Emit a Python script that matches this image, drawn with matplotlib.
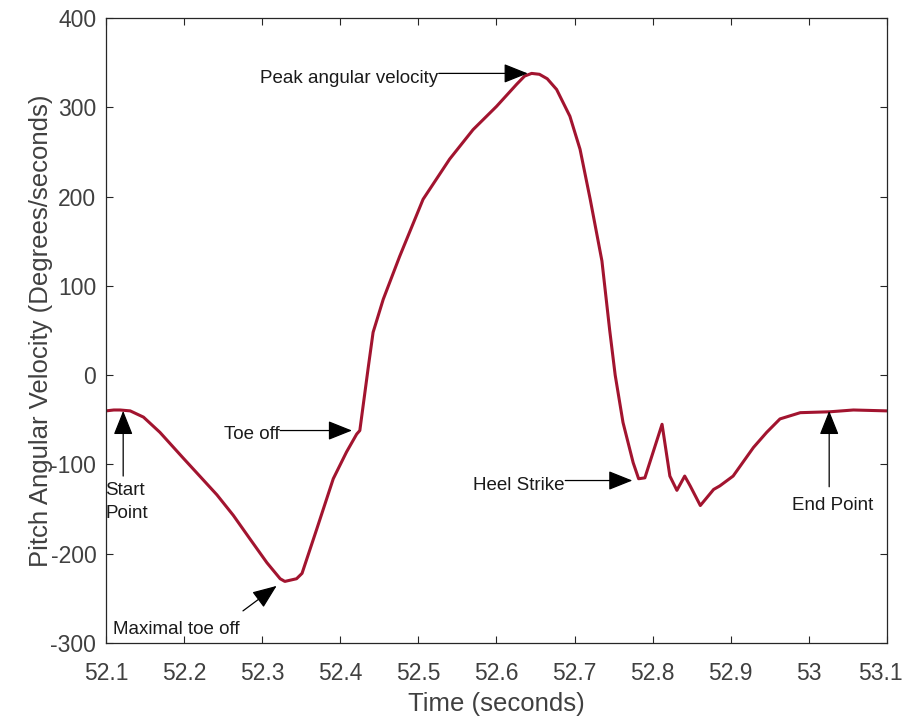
import matplotlib
matplotlib.use("Agg")
import matplotlib.pyplot as plt
from matplotlib.transforms import ScaledTranslation

plt.rcParams['font.family'] = ['Liberation Sans', 'DejaVu Sans']
plt.rcParams['axes.unicode_minus'] = False

time_s = [52.100, 52.110, 52.118, 52.131, 52.148, 52.169, 52.199, 52.220, 52.242,
          52.263, 52.284, 52.306, 52.323, 52.329, 52.344, 52.351, 52.370, 52.391,
          52.408, 52.421, 52.425, 52.436, 52.442, 52.455, 52.476, 52.506, 52.540,
          52.570, 52.600, 52.626, 52.636, 52.645, 52.655, 52.665, 52.677, 52.694,
          52.707, 52.720, 52.735, 52.745, 52.752, 52.762, 52.775, 52.782, 52.790,
          52.812, 52.822, 52.831, 52.841, 52.848, 52.861, 52.878, 52.886, 52.903,
          52.929, 52.946, 52.963, 52.989, 53.027, 53.057, 53.100]
pitch_vel = [-40, -39, -39, -40, -47, -64, -93, -113, -134,
             -157, -183, -210, -228, -231, -228, -222, -172, -116,
             -86, -66, -62, 10, 48, 85, 133, 197, 242,
             275, 301, 326, 335, 338, 337, 332, 320, 290,
             253, 197, 128, 50, 0, -53, -98, -116, -115,
             -55, -113, -129, -113, -124, -146, -128, -124, -113,
             -81, -64, -49, -42, -41, -39, -40]

x_ticks = [52.1, 52.2, 52.3, 52.4, 52.5, 52.6, 52.7, 52.8, 52.9, 53.0, 53.1]
x_tick_labels = ['52.1', '52.2', '52.3', '52.4', '52.5', '52.6', '52.7', '52.8', '52.9', '53', '53.1']
y_ticks = [-300, -200, -100, 0, 100, 200, 300, 400]

fig = plt.figure(figsize=(9.06, 7.22), dpi=100)
ax = fig.add_axes([0.117, 0.1094, 0.862, 0.8656])
ax.plot(time_s, pitch_vel, color='#a2142f', lw=2.2, solid_joinstyle='round')

ax.set_xlim(52.1, 53.1)
ax.set_ylim(-300, 400)
ax.set_xticks(x_ticks)
ax.set_xticklabels(x_tick_labels)
ax.set_yticks(y_ticks)
ax.tick_params(direction='in', top=True, right=True, length=5, width=0.8,
               labelsize=16.5, colors='#262626', labelcolor='#404040')
ax.tick_params(axis='x', pad=14)
ax.tick_params(axis='y', pad=7)
for s in ax.spines.values():
    s.set_color('#262626')
    s.set_linewidth(0.9)
ax.set_xlabel('Time (seconds)', fontsize=18.5, color='#404040', labelpad=5)
ax.set_ylabel('Pitch Angular Velocity (Degrees/seconds)', fontsize=18.5, color='#404040', labelpad=-2)

ap = dict(arrowstyle='-|>,head_length=1.5,head_width=0.6', color='black', lw=0.9,
          shrinkA=0, shrinkB=0)
fs = 13.5
tc = '#1a1a1a'

# Peak angular velocity
ax.text(52.525, 327, 'Peak angular velocity', ha='right', va='baseline', fontsize=fs, color=tc)
ax.annotate('', xy=(52.640, 338), xytext=(52.526, 338), arrowprops=ap)
# Toe off
ax.text(52.322, -72, 'Toe off', ha='right', va='baseline', fontsize=fs, color=tc)
ax.annotate('', xy=(52.415, -62), xytext=(52.323, -62), arrowprops=ap)
# Start point
ax.annotate('', xy=(52.122, -40), xytext=(52.122, -113), arrowprops=ap)
ax.text(52.099, -120, 'Start\nPoint', ha='left', va='top', fontsize=fs, color=tc, linespacing=1.45)
# Maximal toe off
ax.text(52.109, -290, 'Maximal toe off', ha='left', va='baseline', fontsize=fs, color=tc)
ax.annotate('', xy=(52.3185, -236), xytext=(52.2754, -264), arrowprops=ap)
# Heel strike
ax.text(52.687, -129, 'Heel Strike', ha='right', va='baseline', fontsize=fs, color=tc)
ax.annotate('', xy=(52.774, -118), xytext=(52.688, -118), arrowprops=ap)
# End point
ax.annotate('', xy=(53.026, -40), xytext=(53.026, -125), arrowprops=ap)
ax.text(53.030, -151, 'End Point', ha='center', va='baseline', fontsize=fs, color=tc)

fig.canvas.draw()
last = ax.xaxis.get_major_ticks()[-1].label1
last.set_transform(last.get_transform() + ScaledTranslation(-5 / 72, 0, fig.dpi_scale_trans))

fig.savefig('out.png', dpi=100)
